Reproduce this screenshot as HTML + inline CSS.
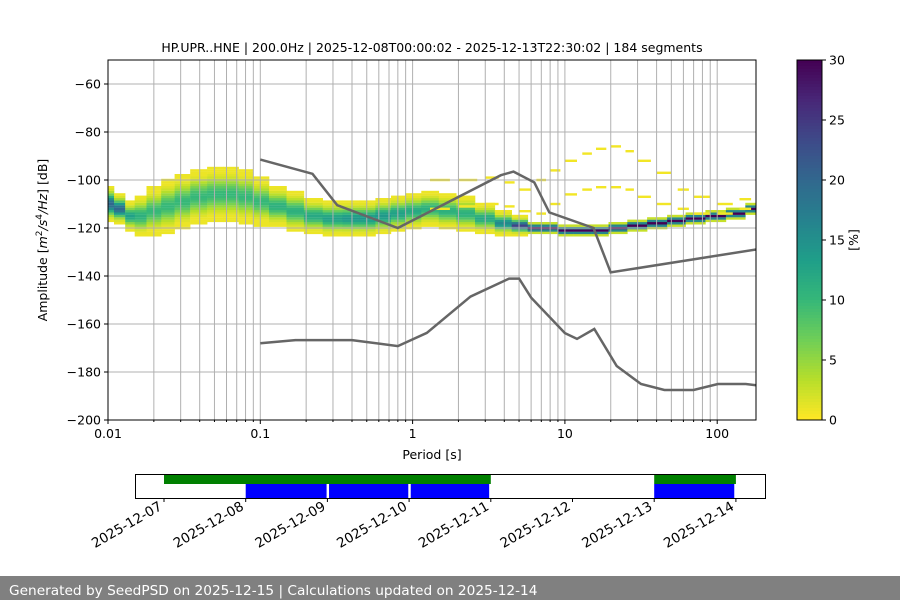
<!DOCTYPE html>
<html><head><meta charset="utf-8"><style>
body{margin:0;background:#fff;width:900px;height:600px;overflow:hidden;font-family:"DejaVu Sans","Liberation Sans",sans-serif}
svg{display:block}
</style></head><body>
<svg id="s" width="900" height="600" xmlns="http://www.w3.org/2000/svg" font-family="DejaVu Sans, Liberation Sans, sans-serif">
<rect width="900" height="600" fill="#fff"/>
<g id="heat"></g>
<g id="grid"></g>
<g id="models"></g>
<rect x="108" y="60" width="648" height="360" fill="none" stroke="#000" stroke-width="1"/>
<g id="axes"></g>
<text x="432" y="52" text-anchor="middle" font-size="12.5">HP.UPR..HNE | 200.0Hz | 2025-12-08T00:00:02 - 2025-12-13T22:30:02 | 184 segments</text>
<text x="432" y="459" text-anchor="middle" font-size="12.5">Period [s]</text>
<text transform="translate(47,240) rotate(-90)" text-anchor="middle" font-size="12.5">Amplitude [<tspan font-style="italic">m</tspan><tspan font-size="9" dy="-5">2</tspan><tspan dy="5" font-style="italic">/s</tspan><tspan font-size="9" dy="-5">4</tspan><tspan dy="5" font-style="italic">/Hz</tspan>] [dB]</text>
<g id="cbar"></g>
<g id="timeline"></g>
<rect x="0" y="576" width="900" height="24" fill="#808080"/>
<text x="9" y="595" fill="#fff" font-size="13.7">Generated by SeedPSD on 2025-12-15 | Calculations updated on 2025-12-14</text>
</svg>
<script>
const pdfPeriods=[0.01,0.012,0.014,0.016,0.02,0.025,0.03,0.04,0.05,0.065,0.08,0.1,0.13,0.17,0.22,0.3,0.4,0.5,0.65,0.8,1,1.3,1.7,2.2,3,4,5,6.5,8,10,13,17,22,30,40,55,70,100,130,180];
const pdfMode=[-110,-112,-115,-115,-113,-111,-109,-107,-106,-106,-107,-109,-111,-113,-115,-116,-116,-116,-115,-114,-113,-112,-113,-114,-116,-118,-119,-120,-120,-121,-121,-121,-120,-119,-118,-117,-116,-115,-114,-112];
const pdfSpread=[6,5,5,7,8,9,9,9,9,9,9,8,7,7,6,6,6,6,6,6,6,6,6,6,5,4,3,2,2,2,2,2,2,2,2,2,2,2,2,2];
const pdfPeak=[20,20,13,11,10,10,10,10,10,10,10,10,11,11,12,13,14,14,14,13,12,11,11,11,12,16,24,30,30,30,30,30,30,30,30,30,30,30,30,30];
const outPeriods=[1.3,2,3,4,5,6.5,8,10,13,16,20,25,30,40,55,70,100,140,180];
const outHigh=[-100,-100,-99,-101,-104,-100,-96,-92,-89,-87,-86,-88,-92,-97,-104,-107,-110,-108,-104];
const outLow=[-112,-111,-110,-111,-113,-114,-110,-106,-104,-103,-103,-104,-107,-110,-112,-114,-114,-112,-110];
const nhnmP=[0.1,0.22,0.32,0.8,3.8,4.6,6.3,7.9,15.4,20,354.8];
const nhnmV=[-91.5,-97.4,-110.5,-120,-98,-96.5,-101,-113.5,-120,-138.5,-126];
const nlnmP=[0.1,0.17,0.4,0.8,1.24,2.4,4.3,5,6,10,12,15.6,21.9,31.6,45,70,101,154,328];
const nlnmV=[-168,-166.7,-166.7,-169.2,-163.7,-148.6,-141.1,-141.1,-149,-163.8,-166.2,-162.1,-177.5,-185,-187.5,-187.5,-185,-185,-187.5];
const yTicks=[-60,-80,-100,-120,-140,-160,-180,-200];
const xTickLabels=["0.01","0.1","1","10","100"];
const xTickVals=[0.01,0.1,1,10,100];
const cbTicks=[0,5,10,15,20,25,30];
const dayLabels=["2025-12-07","2025-12-08","2025-12-09","2025-12-10","2025-12-11","2025-12-12","2025-12-13","2025-12-14"];
const greenSpans=[[0,4],[6,7]];
const blueSpans=[[1,1.99],[2.02,2.99],[3.02,3.98],[6,6.98]];

const NS="http://www.w3.org/2000/svg";
function el(tag,attrs,parent,txt){const e=document.createElementNS(NS,tag);for(const k in attrs)e.setAttribute(k,attrs[k]);if(txt!==undefined)e.textContent=txt;parent.appendChild(e);return e;}
const X0=108,X1=756,Y0=60,Y1=420,DEC=152.3;
const xs=p=>X0+(Math.log10(p)+2)*DEC;
const ys=v=>84+(-60-v)*2.4;
const VIR=[[68,1,84],[72,40,120],[62,74,137],[49,104,142],[38,130,142],[31,158,137],[53,183,121],[110,206,88],[181,222,43],[253,231,37]];
function vir(t){t=Math.max(0,Math.min(1,t));const f=t*(VIR.length-1),i=Math.min(VIR.length-2,Math.floor(f)),r=f-i;const c=VIR[i].map((v,k)=>Math.round(v+(VIR[i+1][k]-v)*r));return `rgb(${c})`;}
const pctColor=p=>vir(1-p/30);
const heat=document.getElementById('heat');
for(let i=0;i<pdfPeriods.length;i++){
  const lp=Math.log10(pdfPeriods[i]);
  const a=i>0?(lp+Math.log10(pdfPeriods[i-1]))/2:lp;
  const b=i<pdfPeriods.length-1?(lp+Math.log10(pdfPeriods[i+1]))/2:Math.log10(180);
  const xa=X0+(a+2)*DEC,xb=X0+(b+2)*DEC;
  const m=pdfMode[i],s=pdfSpread[i];
  for(let d=Math.round(m-s*1.2);d<=Math.round(m+s*1.2);d++){
    const z=(d-m)/(s*0.45);
    let p=pdfPeak[i]*Math.exp(-z*z/2);
    if(p<0.8)p=0.8;
    const r=el('rect',{x:xa.toFixed(1),y:ys(d+0.5).toFixed(1),width:(xb-xa+0.3).toFixed(1),height:2.5,fill:pctColor(p)},heat);
    
    
  }
}
for(let i=0;i<outPeriods.length-1;i++){
  const xa=xs(outPeriods[i]),xb=xs(outPeriods[i+1]);
  [outHigh,outLow].forEach(arr=>{
    const r=el('rect',{x:xa.toFixed(1),y:ys(arr[i]+0.5).toFixed(1),width:((xb-xa)*0.7).toFixed(1),height:2.4,fill:pctColor(0.5)},heat);
    
    
  });
}
const grid=document.getElementById('grid');
for(let e=-2;e<=2;e++)for(let k=1;k<=9;k++){const p=k*Math.pow(10,e);const x=xs(p);if(x<=X0+0.5||x>=X1)continue;
  const g=el('line',{x1:x,x2:x,y1:Y0,y2:Y1,stroke:'#b0b0b0','stroke-width':1},grid);
  }
const axes=document.getElementById('axes');
yTicks.forEach(v=>{const y=ys(v);
  const g=el('line',{x1:X0,x2:X1,y1:y,y2:y,stroke:'#b0b0b0','stroke-width':1},grid);
  
  el('line',{x1:X0-4,x2:X0,y1:y,y2:y,stroke:'#000'},axes);
  const t=el('text',{x:X0-7,y:y+4.5,'text-anchor':'end','font-size':12.5},axes,'\u2212'+Math.abs(v));
  });
xTickVals.forEach((v,i)=>{const x=xs(v);
  el('line',{x1:x,x2:x,y1:Y1,y2:Y1+4,stroke:'#000'},axes);
  const t=el('text',{x:x,y:Y1+18,'text-anchor':'middle','font-size':12.5},axes,xTickLabels[i]);
  });
for(let e=-2;e<=2;e++)for(let k=2;k<=9;k++){const x=xs(k*Math.pow(10,e));if(x<X1)el('line',{x1:x,x2:x,y1:Y1,y2:Y1+2,stroke:'#000'},axes);}
const models=document.getElementById('models');
const defs=el('defs',{},models);const cp=el('clipPath',{id:'pc'},defs);el('rect',{x:X0,y:Y0,width:X1-X0,height:Y1-Y0},cp);
function line(P,V,name){const d=P.map((p,i)=>(i?'L':'M')+xs(p).toFixed(1)+','+ys(V[i]).toFixed(1)).join('');
  const l=el('path',{d:d,fill:'none',stroke:'#666','stroke-width':2.5,'clip-path':'url(#pc)'},models);
  }
line(nhnmP,nhnmV,'high-noise-model-line');line(nlnmP,nlnmV,'low-noise-model-line');
const cb=document.getElementById('cbar');
for(let i=0;i<120;i++){el('rect',{x:797,y:(60+i*3).toFixed(1),width:25,height:3.2,fill:vir(i/119)},cb);}
el('rect',{x:797,y:60,width:25,height:360,fill:'none',stroke:'#000'},cb);
cbTicks.forEach(v=>{const y=420-v*12;el('line',{x1:822,x2:826,y1:y,y2:y,stroke:'#000'},cb);
  const t=el('text',{x:829,y:y+4.5,'font-size':12.5},cb,String(v));});
const cl=el('text',{transform:'translate(858,240) rotate(-90)','text-anchor':'middle','font-size':12.5},cb,'[%]');

const tl=document.getElementById('timeline');
const dx=d=>164+d*81.7;
greenSpans.forEach(s=>{const r=el('rect',{x:dx(s[0]),y:475,width:dx(s[1])-dx(s[0]),height:9,fill:'#008000'},tl);});
blueSpans.forEach(s=>{const r=el('rect',{x:dx(s[0]),y:484,width:dx(s[1])-dx(s[0]),height:14,fill:'#0000ff'},tl);});
el('rect',{x:135.5,y:474.5,width:630,height:24,fill:'none',stroke:'#000'},tl);
dayLabels.forEach((d,i)=>{const x=dx(i);el('line',{x1:x,x2:x,y1:498,y2:502,stroke:'#000'},tl);
  const t=el('text',{transform:`translate(${x-1},509) rotate(-30)`,'text-anchor':'end','font-size':13.5},tl,d);
  });
</script>
</body></html>
